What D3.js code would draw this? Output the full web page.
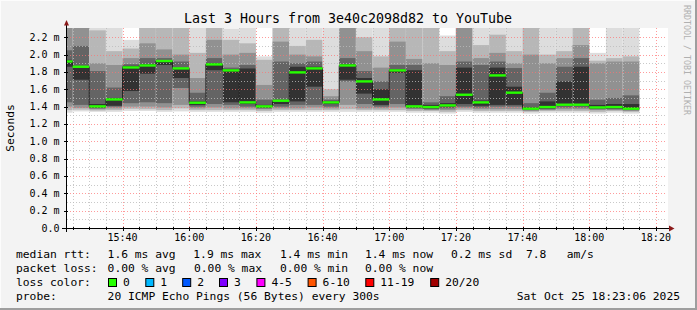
<!DOCTYPE html>
<html><head><meta charset="utf-8">
<script src="https://cdn.jsdelivr.net/npm/d3@7"></script>
<style>html,body{margin:0;padding:0;background:#f3f3f3}svg{display:block}</style>
</head><body>
<svg id="c" width="697" height="310"></svg>
<script>
// ---- data ----
const title = "Last 3 Hours from 3e40c2098d82 to YouTube";
const slotEnd = ["15:25","15:30","15:35","15:40","15:45","15:50","15:55","16:00","16:05","16:10","16:15","16:20","16:25","16:30","16:35","16:40","16:45","16:50","16:55","17:00","17:05","17:10","17:15","17:20","17:25","17:30","17:35","17:40","17:45","17:50","17:55","18:00","18:05","18:10","18:15"];
const median = [1.921,1.860,1.403,1.483,1.852,1.875,1.926,1.841,1.445,1.887,1.818,1.449,1.403,1.468,1.795,1.841,1.449,1.875,1.691,1.483,1.818,1.403,1.395,1.414,1.537,1.449,1.760,1.561,1.376,1.395,1.422,1.422,1.391,1.395,1.376];
// smoke layers, outermost -> innermost: upper edges and lower edges (ms)
const smokeHi = [
 [2.4,2.4,2.4,2.05,1.94],[2.4,2.4,2.4,2.10,1.87],[2.4,2.28,1.90,1.81,1.43],[2.4,2.04,1.88,1.62,1.50],
 [2.17,2.07,1.96,1.89,1.87],[2.4,2.4,2.13,1.96,1.89],[2.4,2.4,2.06,1.96,1.935],[2.4,2.4,2.0,1.92,1.845],
 [2.4,2.02,1.73,1.56,1.46],[2.4,2.4,2.17,1.96,1.90],[2.30,2.17,2.0,1.85,1.83],[2.4,2.13,2.02,1.88,1.84],
 [1.98,1.94,1.65,1.48,1.42],[2.4,2.4,2.15,1.92,1.47],[2.4,2.1,2.0,1.90,1.86],[2.4,2.17,1.98,1.92,1.86],
 [2.4,1.60,1.52,1.48,1.46],[2.4,2.4,2.4,1.96,1.89],[2.4,2.2,2.04,1.81,1.73],[2.4,1.98,1.85,1.69,1.60],
 [2.4,2.4,2.15,1.88,1.83],[2.4,2.4,1.95,1.88,1.82],[2.4,2.4,1.90,1.45,1.42],[2.22,2.04,1.88,1.52,1.44],
 [2.4,2.4,2.4,1.92,1.85],[2.4,2.11,1.96,1.88,1.47],[2.4,2.23,2.02,1.92,1.85],[2.4,2.04,1.90,1.845,1.63],
 [2.4,2.4,2.0,1.44,1.39],[2.4,2.0,1.90,1.56,1.46],[2.4,2.04,1.96,1.86,1.69],[2.4,2.4,2.11,1.96,1.86],
 [2.02,1.93,1.90,1.48,1.42],[2.4,1.96,1.92,1.50,1.43],[2.4,1.98,1.92,1.53,1.43]
];
const smokeLo = [
 [1.33,1.36,1.40,1.45,1.86],[1.345,1.365,1.385,1.42,1.71],[1.34,1.355,1.37,1.38,1.39],[1.34,1.36,1.38,1.40,1.41],
 [1.35,1.375,1.40,1.44,1.58],[1.35,1.37,1.40,1.45,1.78],[1.34,1.36,1.39,1.44,1.88],[1.345,1.38,1.42,1.615,1.73],
 [1.34,1.36,1.38,1.40,1.42],[1.34,1.36,1.39,1.43,1.82],[1.34,1.36,1.38,1.42,1.45],[1.34,1.36,1.38,1.40,1.43],
 [1.33,1.35,1.37,1.38,1.39],[1.34,1.36,1.38,1.40,1.43],[1.34,1.36,1.38,1.42,1.46],[1.34,1.36,1.39,1.42,1.63],
 [1.34,1.36,1.38,1.40,1.43],[1.34,1.37,1.42,1.69,1.71],[1.34,1.36,1.38,1.43,1.55],[1.34,1.36,1.38,1.40,1.42],
 [1.34,1.36,1.39,1.43,1.79],[1.33,1.35,1.37,1.38,1.39],[1.33,1.35,1.36,1.37,1.38],[1.32,1.34,1.36,1.38,1.40],
 [1.34,1.36,1.38,1.40,1.43],[1.33,1.35,1.37,1.39,1.41],[1.33,1.35,1.37,1.40,1.42],[1.33,1.35,1.37,1.40,1.42],
 [1.32,1.34,1.35,1.36,1.37],[1.33,1.35,1.36,1.37,1.38],[1.33,1.35,1.37,1.39,1.41],[1.33,1.35,1.37,1.39,1.41],
 [1.32,1.34,1.36,1.37,1.38],[1.33,1.35,1.36,1.37,1.38],[1.32,1.34,1.35,1.36,1.37]
];
const timeStart = "15:23:20", timeEnd = "18:23:20";
const xTickLabels = ["15:40","16:00","16:20","16:40","17:00","17:20","17:40","18:00","18:20"];
const yTickValues = [0,0.2,0.4,0.6,0.8,1.0,1.2,1.4,1.6,1.8,2.0,2.2];
const yTickLabels = ["0.0","0.2 m","0.4 m","0.6 m","0.8 m","1.0 m","1.2 m","1.4 m","1.6 m","1.8 m","2.0 m","2.2 m"];
const yMax = 2.307;
const legendRtt = ["1.6 ms avg","1.9 ms max","1.4 ms min","1.4 ms now","0.2 ms sd","7.8","am/s"];
const legendLoss = ["0.00 % avg","0.00 % max","0.00 % min","0.00 % now"];
const lossLabels = ["0","1","2","3","4-5","6-10","11-19","20/20"];
const lossColors = ["#26ff00","#00b8ff","#0059ff","#7e00ff","#ff00ff","#ff5500","#ff0000","#a10000"];
const probeText = "20 ICMP Echo Pings (56 Bytes) every 300s";
const stamp = "Sat Oct 25 18:23:06 2025";
const layerGray = ["#dddddd","#b7b7b7","#919191","#646464","#323232"];

// ---- drawing ----
const svg = d3.select("#c");
const mono = "'DejaVu Sans Mono', monospace";
const pT = d3.timeParse("%H:%M"), pS = d3.timeParse("%H:%M:%S");
const L = 67, R = 667, T = 28, B = 228;
const x = d3.scaleTime().domain([pS(timeStart), pS(timeEnd)]).range([L, R]);
const y = d3.scaleLinear().domain([0, yMax]).range([B, T]);

svg.append("rect").attr("width",697).attr("height",310).attr("fill","#f3f3f3");
svg.append("path").attr("d","M0,0.5H697M0.5,0V310").attr("stroke","#fcfcfc").attr("stroke-width",1);
svg.append("path").attr("d","M0,309H697M696,0V310").attr("stroke","#9e9e9e").attr("stroke-width",2);
svg.append("rect").attr("x",L).attr("y",T).attr("width",R-L+1).attr("height",B-T).attr("fill","#ffffff");

svg.append("defs").append("clipPath").attr("id","pc").append("rect")
  .attr("x",L).attr("y",T).attr("width",R-L).attr("height",B-T);

const bars = slotEnd.map((s,i)=>{const e=pT(s); return {s:d3.timeMinute.offset(e,-5), e, m:median[i], hi:smokeHi[i], lo:smokeLo[i]};});
const gS = svg.append("g").attr("clip-path","url(#pc)");
bars.forEach(b=>{
  const x0 = Math.max(L, x(b.s)), x1 = x(b.e);
  for (let k=0;k<5;k++){
    const yt = y(b.hi[k]), yb = y(b.lo[k]);
    gS.append("rect").attr("x",x0).attr("width",x1-x0)
      .attr("y",yt).attr("height",yb-yt).attr("fill",layerGray[k]);
  }
});

// grid
const gG = svg.append("g").attr("clip-path","url(#pc)");
const minorT = x.ticks(d3.timeMinute.every(5));
const majorSet = new Set(xTickLabels);
const fmt = d3.timeFormat("%H:%M");
minorT.forEach(t=>{
  const isMaj = majorSet.has(fmt(t));
  gG.append("line").attr("x1",Math.round(x(t))+0.5).attr("x2",Math.round(x(t))+0.5).attr("y1",T).attr("y2",B)
    .attr("stroke",isMaj?"#ff7070":"#bbbbbb").attr("stroke-opacity",isMaj?0.7:0.8)
    .attr("stroke-dasharray","1,2");
});
d3.range(1,23).forEach(i=>{
  const v=i/10, yy=Math.round(y(v))+0.5, isMaj = i%2===0;
  gG.append("line").attr("x1",L).attr("x2",R).attr("y1",yy).attr("y2",yy)
    .attr("stroke",isMaj?"#ff7070":"#bbbbbb").attr("stroke-opacity",isMaj?0.7:0.8)
    .attr("stroke-dasharray","1,2");
});

// median step line + loss-colored segments
const gM = svg.append("g").attr("clip-path","url(#pc)");
const pts = bars.map(b=>[Math.max(L,x(b.s)), y(b.m)]);
pts.push([x(bars[bars.length-1].e), y(bars[bars.length-1].m)]);
gM.append("path").attr("d", d3.line().curve(d3.curveStepAfter)(pts))
  .attr("fill","none").attr("stroke","#202020").attr("stroke-width",1);
bars.forEach(b=>{
  const x0 = Math.max(L, x(b.s)), x1 = x(b.e);
  gM.append("rect").attr("x",x0).attr("width",x1-x0).attr("y",y(b.m)-1.2).attr("height",2.4).attr("fill",lossColors[0]);
});

// axes
svg.append("line").attr("x1",62).attr("x2",670).attr("y1",B+0.5).attr("y2",B+0.5).attr("stroke","#000");
svg.append("line").attr("x1",L-0.5).attr("x2",L-0.5).attr("y1",24).attr("y2",B+4).attr("stroke","#000");
svg.append("path").attr("d",`M${L-3},25.5L${L-0.5},20L${L+2},25.5Z`).attr("fill","#8b1a1a");
svg.append("path").attr("d",`M669,${B-2.5}L674.5,${B+0.5}L669,${B+3.5}Z`).attr("fill","#8b1a1a");
minorT.forEach(t=>{
  const xx=Math.round(x(t))+0.5, maj=majorSet.has(fmt(t));
  svg.append("line").attr("x1",xx).attr("x2",xx).attr("y1",B-1).attr("y2",B+(maj?3:2)).attr("stroke","#000");
});
yTickValues.forEach(v=>{
  const yy=Math.round(y(v))+0.5;
  svg.append("line").attr("x1",L-3).attr("x2",L+1).attr("y1",yy).attr("y2",yy).attr("stroke","#000");
});

// labels
svg.selectAll(".yl").data(yTickValues).join("text")
  .attr("x",59.5).attr("y",v=>y(v)+3.5).attr("text-anchor","end")
  .attr("font-family",mono).attr("font-size",10).attr("fill","#000")
  .text((v,i)=>yTickLabels[i]);
svg.selectAll(".xl").data(xTickLabels).join("text")
  .attr("x",s=>x(pT(s))).attr("y",241).attr("text-anchor","middle")
  .attr("font-family",mono).attr("font-size",10).attr("fill","#000").text(s=>s);

svg.append("text").attr("x",348).attr("y",23).attr("text-anchor","middle")
  .attr("font-family",mono).attr("font-size",13.3).attr("fill","#000").text(title);
svg.append("text").attr("transform","translate(14,128) rotate(-90)").attr("text-anchor","middle")
  .attr("font-family",mono).attr("font-size",11.3).attr("fill","#000").text("Seconds");
svg.append("text").attr("transform","translate(684,5) rotate(90)").attr("text-anchor","start")
  .attr("font-family",mono).attr("font-size",8.3).attr("fill","#b0b0b0").text("RRDTOOL / TOBI OETIKER");

const lf = 11.3;
function lt(xx,yy,s,anchor){svg.append("text").attr("x",xx).attr("y",yy).attr("text-anchor",anchor||"start")
  .attr("font-family",mono).attr("font-size",lf).attr("fill","#000").attr("xml:space","preserve").text(s);}
lt(16,258,"median rtt:");
[107.6,193.3,280,365,451,526,566.7].forEach((xx,i)=>lt(xx,258,legendRtt[i]));
lt(16,272,"packet loss:");
[107.6,194,280,365].forEach((xx,i)=>lt(xx,272,legendLoss[i]));
lt(16,286,"loss color:");
const boxX = [108,145.3,182.2,219,256.4,307.6,365.3,430.2];
lossLabels.forEach((s,i)=>{
  svg.append("rect").attr("x",boxX[i]+0.5).attr("y",278.5).attr("width",8).attr("height",8)
    .attr("fill",lossColors[i]).attr("stroke","#000").attr("stroke-width",1);
  lt(boxX[i]+15,286,s);
});
lt(16,300,"probe:");
lt(107.6,300,probeText);
lt(680,300,stamp,"end");
</script>
</body></html>
